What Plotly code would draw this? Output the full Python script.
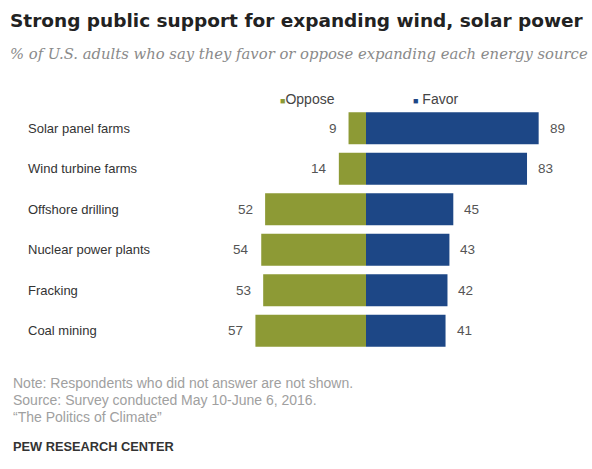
import plotly.graph_objects as go

categories = ["Solar panel farms", "Wind turbine farms", "Offshore drilling",
              "Nuclear power plants", "Fracking", "Coal mining"]
oppose = [9, 14, 52, 54, 53, 57]
favor = [89, 83, 45, 43, 42, 41]
series_names = ["Oppose", "Favor"]

C_OPP = "#8d9a35"
C_FAV = "#1d4786"
W, H = 592, 469
T, B = 108, 118
PH = H - T - B


def py(y):
    return (H - B - y) / PH


def px(x):
    return x / W


SANS = "Liberation Sans"

fig = go.Figure()
fig.add_trace(go.Bar(y=categories, x=[-v for v in oppose], orientation="h",
                     marker=dict(color=C_OPP, line=dict(width=0)), name=series_names[0],
                     hoverinfo="skip"))
fig.add_trace(go.Bar(y=categories, x=favor, orientation="h",
                     marker=dict(color=C_FAV, line=dict(width=0)), name=series_names[1],
                     hoverinfo="skip"))

ann = []
for c, o, f in zip(categories, oppose, favor):
    ann.append(dict(x=-o, y=c, xref="x", yref="y", text=str(o), showarrow=False,
                    xanchor="right", xshift=-10, font=dict(size=13.5, color="#555", family=SANS)))
    ann.append(dict(x=f, y=c, xref="x", yref="y", text=str(f), showarrow=False,
                    xanchor="left", xshift=9, font=dict(size=13.5, color="#555", family=SANS)))
    ann.append(dict(x=px(26), xref="paper", y=c, yref="y", text=c, showarrow=False,
                    xanchor="left", font=dict(size=13, color="#333", family=SANS)))

# legend
ann.append(dict(x=px(278), y=py(99), xref="paper", yref="paper", showarrow=False,
                xanchor="left", yanchor="middle",
                text=f"<span style='color:{C_OPP};font-size:9px'>■</span>{series_names[0]}",
                font=dict(size=14, color="#444", family=SANS)))
ann.append(dict(x=px(411), y=py(99), xref="paper", yref="paper", showarrow=False,
                xanchor="left", yanchor="middle",
                text=f"<span style='color:{C_FAV};font-size:9px'>■</span> {series_names[1]}",
                font=dict(size=14, color="#444", family=SANS)))

# titles
ann.append(dict(x=px(8), y=py(21), xref="paper", yref="paper", showarrow=False,
                xanchor="left", yanchor="middle",
                text="<b>Strong public support for expanding wind, solar power</b>",
                font=dict(size=18.5, color="#222", family="DejaVu Sans")))
ann.append(dict(x=px(8), y=py(54), xref="paper", yref="paper", showarrow=False,
                xanchor="left", yanchor="middle",
                text="<i>% of U.S. adults who say they favor or oppose expanding each energy source</i>",
                font=dict(size=14.8, color="#8a8a8a", family="DejaVu Serif")))
# notes
notes = ["Note: Respondents who did not answer are not shown.",
         "Source: Survey conducted May 10-June 6, 2016.",
         "\u201cThe Politics of Climate\u201d"]
for i, t in enumerate(notes):
    ann.append(dict(x=px(11), y=py(383 + 17 * i), xref="paper", yref="paper",
                    showarrow=False, xanchor="left", yanchor="middle", text=t,
                    font=dict(size=14, color="#a0a0a0", family=SANS)))
ann.append(dict(x=px(11), y=py(446), xref="paper", yref="paper", showarrow=False,
                xanchor="left", yanchor="middle", text="<b>PEW RESEARCH CENTER</b>",
                font=dict(size=12.8, color="#333", family=SANS)))

fig.update_layout(
    width=W, height=H, margin=dict(l=0, r=0, t=T, b=B),
    paper_bgcolor="white", plot_bgcolor="white",
    barmode="relative", bargap=0.21, showlegend=False,
    xaxis=dict(range=[-366 / 1.94, (W - 366) / 1.94], visible=False, fixedrange=True),
    yaxis=dict(autorange="reversed", visible=False, fixedrange=True),
    annotations=ann,
)
fig.write_html("out.html")
